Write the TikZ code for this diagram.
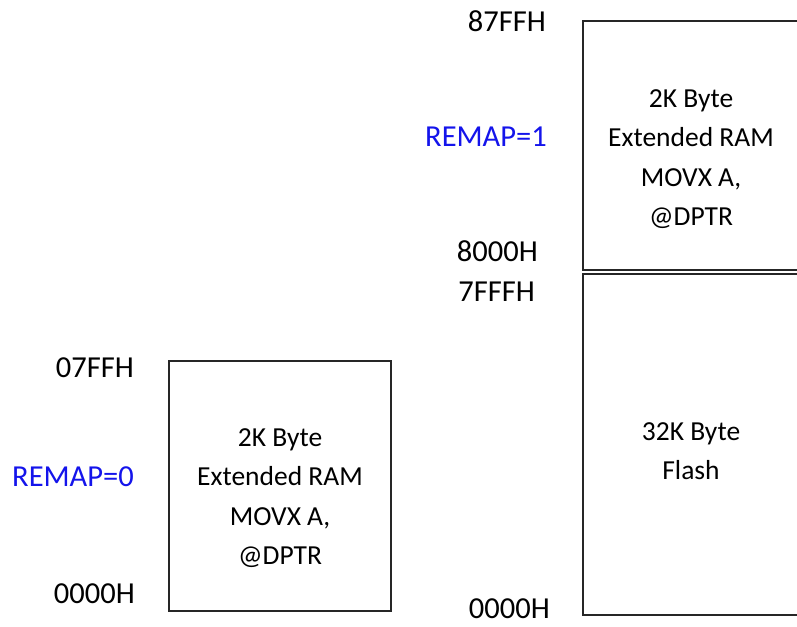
\documentclass[tikz,border=0pt]{standalone}
\usepackage{fontspec}
\setmainfont{Carlito}
\usepackage{xcolor}
\definecolor{remapblue}{RGB}{20,20,235}

\begin{document}
\begin{tikzpicture}[x=1pt,y=-1pt,
                    mem box/.style={rectangle,draw=black!85,line width=1.3pt,inner sep=0pt},
                    box text/.style={align=center,font=\fontsize{27.5}{39.5}\selectfont},
                    addr label/.style={anchor=east,inner sep=0pt,font=\fontsize{30.5}{36}\selectfont},
                    remap label/.style={addr label,text=remapblue}]

  \useasboundingbox (0,0) rectangle (797,626);

  % REMAP=0 : ram at the bottom
  \node[mem box,minimum width=222pt,minimum height=250pt] (ramlo) at (280,486) {};
  \node[box text] (ramlotxt) at ([yshift=-12pt]ramlo.center) {2K Byte\\Extended RAM\\MOVX A,\\@DPTR};
  \node[addr label] (lotop) at (134,368) {07FFH};
  \node[remap label] (remap0) at (134,477) {REMAP=0};
  \node[addr label] (lobot) at (135,594) {0000H};

  % REMAP=1 : ram above the flash
  \node[mem box,minimum width=216pt,minimum height=249pt] (ramhi) at (691,145.5) {};
  \node[box text] (ramhitxt) at ([yshift=-13.5pt]ramhi.center) {2K Byte\\Extended RAM\\MOVX A,\\@DPTR};
  \node[mem box,minimum width=216pt,minimum height=341pt] (flash) at (691,444.5) {};
  \node[box text] (flashtxt) at ([yshift=-6.5pt]flash.center) {32K Byte\\Flash};

  \node[addr label] (hitop) at (546,21) {87FFH};
  \node[remap label] (remap1) at (547,137) {REMAP=1};
  \node[addr label] (hibot) at (538,251) {8000H};
  \node[addr label] (fltop) at (535,292) {7FFFH};
  \node[addr label] (flbot) at (550,609) {0000H};

\end{tikzpicture}
\end{document}
